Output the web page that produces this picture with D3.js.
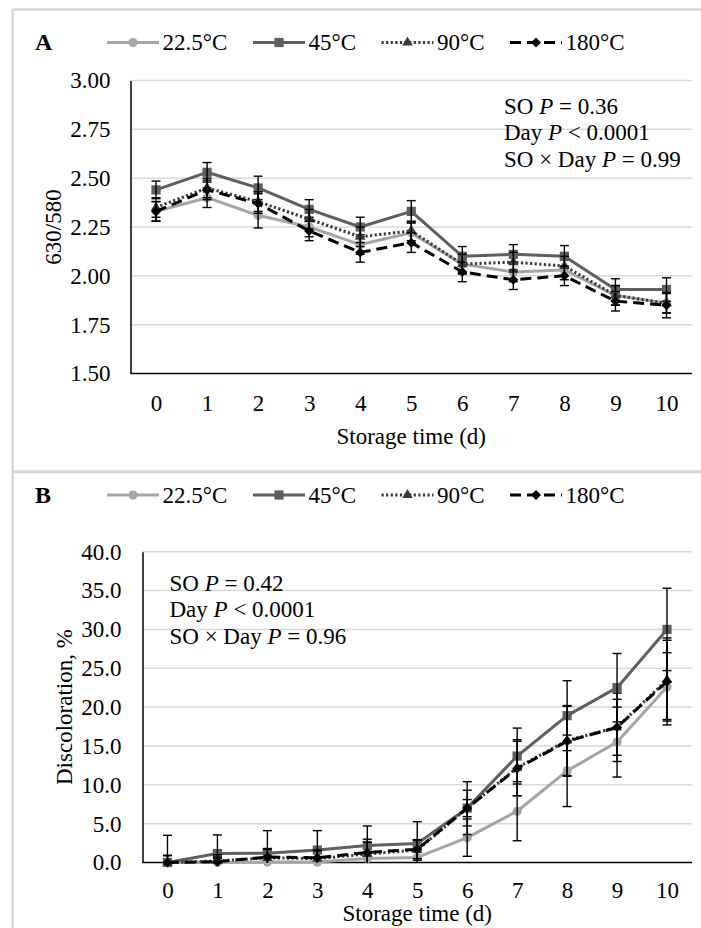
<!DOCTYPE html>
<html>
<head>
<meta charset="utf-8">
<script src="https://cdn.jsdelivr.net/npm/d3@7"></script>
<style>
  html, body { margin: 0; padding: 0; background: #fff; }
  svg { display: block; }
</style>
</head>
<body>
<svg id="chart" width="701" height="928"></svg>
<script>
// ---------------- DATA ----------------
const days = ["0","1","2","3","4","5","6","7","8","9","10"];
const seriesNames = ["22.5°C", "45°C", "90°C", "180°C"];

// Panel A: 630/580 ratio
const a225 = [2.33, 2.40, 2.31, 2.25, 2.16, 2.22, 2.06, 2.02, 2.03, 1.90, 1.86];
const a45  = [2.44, 2.53, 2.45, 2.34, 2.25, 2.33, 2.10, 2.11, 2.10, 1.93, 1.93];
const a90  = [2.35, 2.45, 2.38, 2.29, 2.20, 2.23, 2.06, 2.07, 2.05, 1.90, 1.86];
const a180 = [2.33, 2.44, 2.37, 2.23, 2.12, 2.17, 2.02, 1.98, 2.00, 1.87, 1.85];
const ea225 = [0.05, 0.05, 0.065, 0.05, 0.05, 0.05, 0.05, 0.05, 0.05, 0.05, 0.05];
const ea45  = [0.045, 0.05, 0.06, 0.05, 0.05, 0.055, 0.05, 0.05, 0.055, 0.055, 0.06];
const ea90  = [0.05, 0.05, 0.05, 0.05, 0.05, 0.05, 0.05, 0.05, 0.05, 0.05, 0.05];
const ea180 = [0.05, 0.05, 0.05, 0.05, 0.05, 0.05, 0.05, 0.05, 0.05, 0.05, 0.065];
const aTicks = [1.50, 1.75, 2.00, 2.25, 2.50, 2.75, 3.00];

// Panel B: Discoloration, %
const b225 = [0, 0, 0.05, 0.05, 0.5, 0.65, 3.2, 6.6, 11.8, 15.5, 22.6];
const b45  = [0, 1.15, 1.2, 1.6, 2.2, 2.45, 7.0, 13.7, 18.9, 22.5, 30.0];
const b90  = [0, 0.2, 0.6, 0.5, 1.1, 1.6, 7.0, 12.2, 15.7, 17.4, 23.5];
const b180 = [0, 0.1, 0.7, 0.6, 1.3, 1.7, 7.0, 12.1, 15.6, 17.4, 23.3];
const eb225 = [0.9, 0.5, 0.6, 0.5, 0.8, 1.0, 2.4, 3.8, 4.6, 4.5, 4.4];
const eb45  = [3.5, 2.4, 2.9, 2.5, 2.5, 2.8, 3.4, 3.6, 4.5, 4.4, 5.3];
const eb90  = [0.9, 0.8, 1.2, 1.0, 1.5, 1.3, 2.3, 3.6, 4.5, 3.6, 5.1];
const eb180 = [0.9, 0.6, 1.0, 1.0, 1.7, 1.2, 1.1, 3.5, 4.5, 4.4, 5.6];
const bTicks = [0, 5, 10, 15, 20, 25, 30, 35, 40];

const statsA = [["SO ", "P", " = 0.36"], ["Day ", "P", " < 0.0001"], ["SO × Day ", "P", " = 0.99"]];
const statsB = [["SO ", "P", " = 0.42"], ["Day ", "P", " < 0.0001"], ["SO × Day ", "P", " = 0.96"]];

// ---------------- STYLE ----------------
const FONT = "'Liberation Serif', Tinos, 'Times New Roman', 'DejaVu Serif', serif";
const styles = [
  { color: "#a5a5a5", mcolor: "#a5a5a5", dash: null, symbol: "circle" },
  { color: "#5f5f5f", mcolor: "#5f5f5f", dash: null, symbol: "square" },
  { color: "#3a3a3a", mcolor: "#3a3a3a", dash: "2.2,2.4", symbol: "triangle" },
  { color: "#000000", mcolor: "#000000", dash: "11,6", symbol: "diamond" }
];
const FS = 23;
const svg = d3.select("#chart").style("font-family", FONT);

function txt(sel) {
  return sel.style("font-family", FONT).attr("fill", "#000");
}

// frame lines
const frameColor = "#d6d6d6";
svg.append("line").attr("x1", 12.7).attr("x2", 12.7).attr("y1", 9.5).attr("y2", 928)
  .attr("stroke", frameColor).attr("stroke-width", 2.5);
svg.append("line").attr("x1", 12.7).attr("x2", 701).attr("y1", 9.5).attr("y2", 9.5)
  .attr("stroke", frameColor).attr("stroke-width", 2.5);
svg.append("line").attr("x1", 12.7).attr("x2", 701).attr("y1", 471.7).attr("y2", 471.7)
  .attr("stroke", frameColor).attr("stroke-width", 3);

function symbolPath(kind) {
  if (kind === "circle") return d3.symbol(d3.symbolCircle, 66)();
  if (kind === "square") return d3.symbol(d3.symbolSquare, 85)();
  if (kind === "triangle") return d3.symbol(d3.symbolTriangle, 48)();
  return d3.symbol(d3.symbolSquare, 50)();
}
function symbolTransform(kind, x, y) {
  return kind === "diamond" ? `translate(${x},${y}) rotate(45)` : `translate(${x},${y})`;
}

function drawLegend(label, baseY) {
  txt(svg.append("text")).attr("x", 35).attr("y", baseY).attr("font-size", 24)
    .attr("font-weight", "bold").text(label);
  const starts = [107, 253, 381.5, 510];
  seriesNames.forEach((name, i) => {
    const st = styles[i];
    const x0 = starts[i], x1 = x0 + 52, cy = baseY - 7.5;
    svg.append("line").attr("x1", x0).attr("x2", x1).attr("y1", cy).attr("y2", cy)
      .attr("stroke", st.color).attr("stroke-width", 3)
      .attr("stroke-dasharray", st.dash);
    svg.append("path").attr("d", symbolPath(st.symbol))
      .attr("transform", symbolTransform(st.symbol, (x0 + x1) / 2, cy))
      .attr("fill", st.mcolor);
    txt(svg.append("text")).attr("x", x1 + 3.5).attr("y", baseY).attr("font-size", FS).text(name);
  });
}

function drawPanel(cfg) {
  const { left, right, top, bottom, domain, ticks, fmt, series, errors, yTitle, yTitleX,
          xLabelPad, xTitleY, stats, statsX, statsY, yLabelPad } = cfg;
  const x = d3.scalePoint().domain(days).range([left, right]).padding(0.5);
  const y = d3.scaleLinear().domain(domain).range([bottom, top]);
  const g = svg.append("g");

  // gridlines
  g.append("g").selectAll("line").data(ticks.filter(t => t !== domain[0])).join("line")
    .attr("x1", left).attr("x2", right)
    .attr("y1", d => y(d)).attr("y2", d => y(d))
    .attr("stroke", "#d9d9d9").attr("stroke-width", 1.5);

  // y axis
  const ya = g.append("g").attr("transform", `translate(${left},0)`)
    .call(d3.axisLeft(y).tickValues(ticks).tickFormat(fmt).tickSize(0).tickPadding(yLabelPad));
  ya.attr("font-family", null);
  ya.select(".domain").attr("stroke", "#000").attr("stroke-width", 1.5);
  txt(ya.selectAll("text")).attr("font-size", FS);

  // x axis
  const xa = g.append("g").attr("transform", `translate(0,${bottom})`)
    .call(d3.axisBottom(x).tickSize(0).tickPadding(xLabelPad));
  xa.attr("font-family", null);
  xa.select(".domain").attr("stroke", "#000").attr("stroke-width", 1.5)
    .attr("d", `M${left},0H${right}`);
  txt(xa.selectAll("text")).attr("font-size", FS);

  // titles
  txt(g.append("text")).attr("transform", `translate(${yTitleX},${(top + bottom) / 2}) rotate(-90)`)
    .attr("text-anchor", "middle").attr("font-size", FS).text(yTitle);
  txt(g.append("text")).attr("x", (left + right) / 2).attr("y", xTitleY)
    .attr("text-anchor", "middle").attr("font-size", FS).text("Storage time (d)");

  // stats annotation
  stats.forEach((parts, i) => {
    const t = txt(g.append("text")).attr("x", statsX).attr("y", statsY + i * 26.7).attr("font-size", FS);
    t.append("tspan").text(parts[0]);
    t.append("tspan").attr("font-style", "italic").text(parts[1]);
    t.append("tspan").text(parts[2]);
  });

  // series
  series.forEach((vals, si) => {
    const st = styles[si];
    const pts = vals.map((v, i) => ({ d: days[i], v, e: errors[si][i] }));
    g.append("path").datum(pts)
      .attr("d", d3.line().x(p => x(p.d)).y(p => y(p.v)))
      .attr("fill", "none").attr("stroke", st.color).attr("stroke-width", 3)
      .attr("stroke-dasharray", st.dash).attr("stroke-linejoin", "round");
    g.append("g").selectAll("path").data(pts).join("path")
      .attr("d", symbolPath(st.symbol))
      .attr("transform", p => symbolTransform(st.symbol, x(p.d), y(p.v)))
      .attr("fill", st.mcolor);
    // error bars
    const eg = g.append("g").attr("stroke", "#000").attr("stroke-width", 1.4);
    pts.forEach(p => {
      const cx = x(p.d);
      const hi = p.v + p.e, lo = Math.max(p.v - p.e, domain[0]);
      eg.append("line").attr("x1", cx).attr("x2", cx).attr("y1", y(hi)).attr("y2", y(lo));
      eg.append("line").attr("x1", cx - 4.5).attr("x2", cx + 4.5).attr("y1", y(hi)).attr("y2", y(hi));
      if (p.v - p.e >= domain[0]) {
        eg.append("line").attr("x1", cx - 4.5).attr("x2", cx + 4.5).attr("y1", y(lo)).attr("y2", y(lo));
      }
    });
  });
}

drawLegend("A", 50);
drawPanel({
  left: 130.5, right: 692, top: 80.5, bottom: 373.5,
  domain: [1.5, 3.0], ticks: aTicks, fmt: d3.format(".2f"),
  series: [a225, a45, a90, a180], errors: [ea225, ea45, ea90, ea180],
  yTitle: "630/580", yTitleX: 61, yLabelPad: 20,
  xLabelPad: 21, xTitleY: 444,
  stats: statsA, statsX: 504, statsY: 113.5
});

drawLegend("B", 502.5);
drawPanel({
  left: 142.5, right: 692, top: 551.7, bottom: 862.5,
  domain: [0, 40], ticks: bTicks, fmt: d3.format(".1f"),
  series: [b225, b45, b90, b180], errors: [eb225, eb45, eb90, eb180],
  yTitle: "Discoloration, %", yTitleX: 72, yLabelPad: 21,
  xLabelPad: 19, xTitleY: 921,
  stats: statsB, statsX: 169.5, statsY: 590.7
});
</script>
</body>
</html>
